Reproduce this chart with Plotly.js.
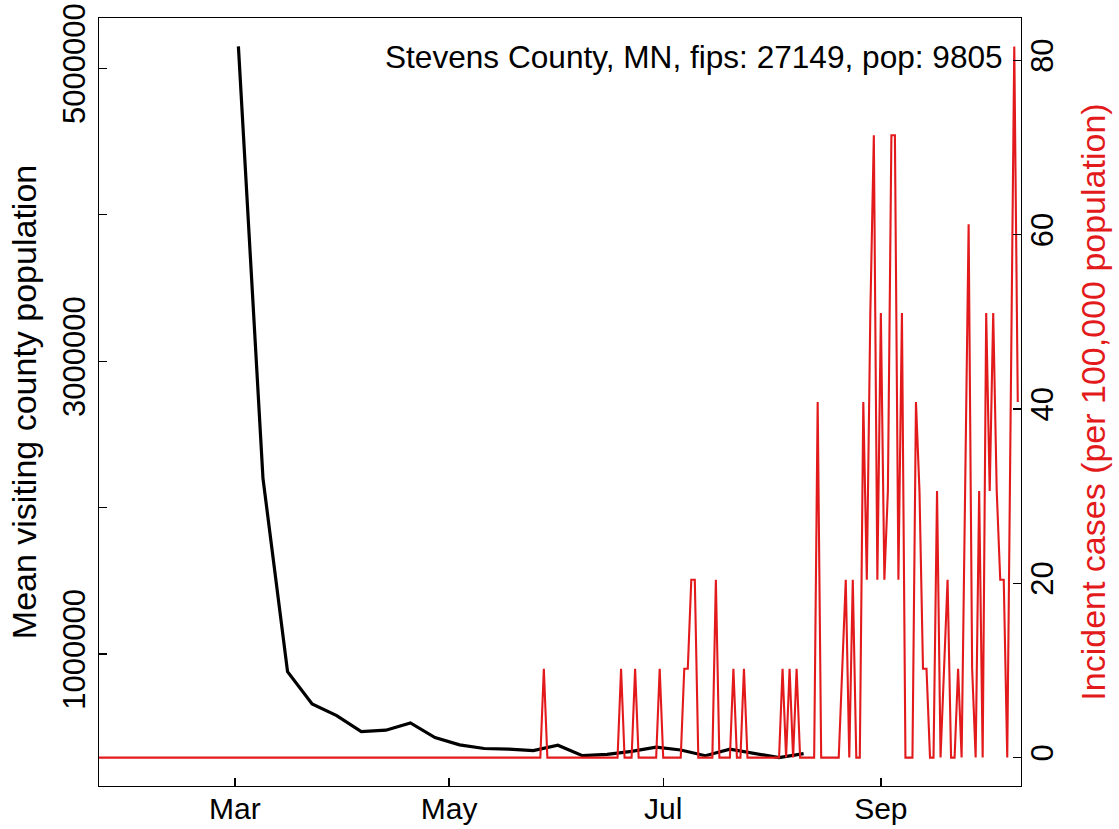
<!DOCTYPE html>
<html>
<head>
<meta charset="utf-8">
<script src="https://cdn.plot.ly/plotly-3.0.1.min.js"></script>
<style>html,body{margin:0;padding:0;background:#fff;}</style>
</head>
<body>
<div id="chart" style="width:1119px;height:829px;"></div>
<script>
// Weekly mean visiting county population (black line, left axis)
const mobilityDates = ['2020-03-02','2020-03-09','2020-03-16','2020-03-23','2020-03-30','2020-04-06',
  '2020-04-13','2020-04-20','2020-04-27','2020-05-04','2020-05-11','2020-05-18','2020-05-25',
  '2020-06-01','2020-06-08','2020-06-15','2020-06-22','2020-06-29','2020-07-06','2020-07-13',
  '2020-07-20','2020-07-27','2020-08-03','2020-08-10'];
const mobilityValues = [5150000, 2200000, 880000, 660000, 580000, 470000,
  480000, 530000, 430000, 380000, 355000, 351000, 341000,
  377000, 306000, 315000, 335000, 364000, 345000, 306000,
  350000, 323000, 293000, 320000];

// Daily incident case counts (red line, right axis); days not listed had 0 cases
const caseStart = '2020-01-22';
const caseEnd = '2020-10-10';
const caseDates = ['2020-05-28','2020-06-19','2020-06-23','2020-06-30','2020-07-07','2020-07-08',
  '2020-07-09','2020-07-10','2020-07-16','2020-07-21','2020-07-24','2020-08-04','2020-08-06',
  '2020-08-08','2020-08-14','2020-08-21','2020-08-22','2020-08-24','2020-08-27','2020-08-28',
  '2020-08-29','2020-08-30','2020-08-31','2020-09-01','2020-09-02','2020-09-03','2020-09-04',
  '2020-09-05','2020-09-06','2020-09-07','2020-09-11','2020-09-12','2020-09-13','2020-09-14',
  '2020-09-17','2020-09-19','2020-09-20','2020-09-23','2020-09-25','2020-09-26','2020-09-27',
  '2020-09-29','2020-10-01','2020-10-02','2020-10-03','2020-10-04','2020-10-05','2020-10-06',
  '2020-10-08','2020-10-09','2020-10-10'];
const caseCounts = [1,1,1,1,1,1,
  2,2,2,1,1,1,1,
  1,4,1,2,2,4,2,
  5,7,2,5,2,3,7,
  7,2,5,4,3,1,1,
  3,1,2,1,3,6,1,
  3,5,3,5,3,2,2,
  4,8,4];
const countyPop = 9805;

const xTickVals = ['2020-03-01','2020-05-01','2020-07-01','2020-09-01'];
const xTickText = ['Mar','May','Jul','Sep'];
const yTickVals = [1000000,2000000,3000000,4000000,5000000];
const yTickText = ['1000000','','3000000','','5000000'];
const y2TickVals = [0,20,40,60,80];
const annotationText = 'Stevens County, MN, fips: 27149, pop: 9805';

// expand the listed case days into a daily series
const caseMap = {};
caseDates.forEach((d,i)=>{ caseMap[d] = caseCounts[i]; });
const dailyX = [], dailyY = [];
for (let t = Date.parse(caseStart+'T00:00:00Z'); t <= Date.parse(caseEnd+'T00:00:00Z'); t += 86400000) {
  const iso = new Date(t).toISOString().slice(0,10);
  dailyX.push(iso);
  dailyY.push((caseMap[iso] || 0) * 100000 / countyPop);
}

const RED = '#e31a1c';
const FONT = 'Liberation Sans, Arial, Helvetica, sans-serif';

const traces = [
  {x: mobilityDates, y: mobilityValues, type:'scatter', mode:'lines', yaxis:'y',
   line:{color:'#000000', width:3.2}, hoverinfo:'x+y'},
  {x: dailyX, y: dailyY, type:'scatter', mode:'lines', yaxis:'y2',
   line:{color:RED, width:2.1}, hoverinfo:'x+y'}
];

const layout = {
  width:1119, height:829,
  margin:{l:99, r:98, t:18, b:43, pad:0},
  paper_bgcolor:'#ffffff', plot_bgcolor:'#ffffff',
  showlegend:false,
  font:{family:FONT, color:'#000000', size:30},
  xaxis:{type:'date', range:['2020-01-22 07:00','2020-10-10 22:00'],
    tickmode:'array', tickvals:xTickVals, ticktext:xTickText,
    ticks:'inside', ticklen:8, tickwidth:1.3, tickcolor:'#000',
    showline:true, linecolor:'#000', linewidth:1.3, mirror:true,
    showgrid:false, zeroline:false, tickfont:{size:30, family:FONT}, ticklabelstandoff:-4},
  yaxis:{range:[99000, 5344000], tickmode:'array', tickvals:yTickVals, ticktext:yTickText,
    tickangle:-90, ticks:'inside', ticklen:8, tickwidth:1.3, tickcolor:'#000',
    showline:true, linecolor:'#000', linewidth:1.3, mirror:true,
    showgrid:false, zeroline:false, tickfont:{size:31, family:FONT},
    title:{text:'Mean visiting county population', font:{size:34, family:FONT, color:'#000'}, standoff:10}},
  yaxis2:{overlaying:'y', side:'right', range:[-3.26, 84.85], tickmode:'array', tickvals:y2TickVals,
    tickangle:-90, ticks:'inside', ticklen:8, tickwidth:1.3, tickcolor:'#000',
    showline:false, showgrid:false, zeroline:false, tickfont:{size:31, family:FONT},
    title:{text:'Incident cases (per 100,000 population)', font:{size:34, family:FONT, color:RED}, standoff:22}},
  annotations:[{text:annotationText, xref:'paper', yref:'paper', x:0.9826, y:0.9486,
    xanchor:'right', yanchor:'middle', showarrow:false, font:{size:31.6, family:FONT, color:'#000'}}]
};

Plotly.newPlot('chart', traces, layout, {staticPlot:true, displayModeBar:false});
</script>
</body>
</html>
